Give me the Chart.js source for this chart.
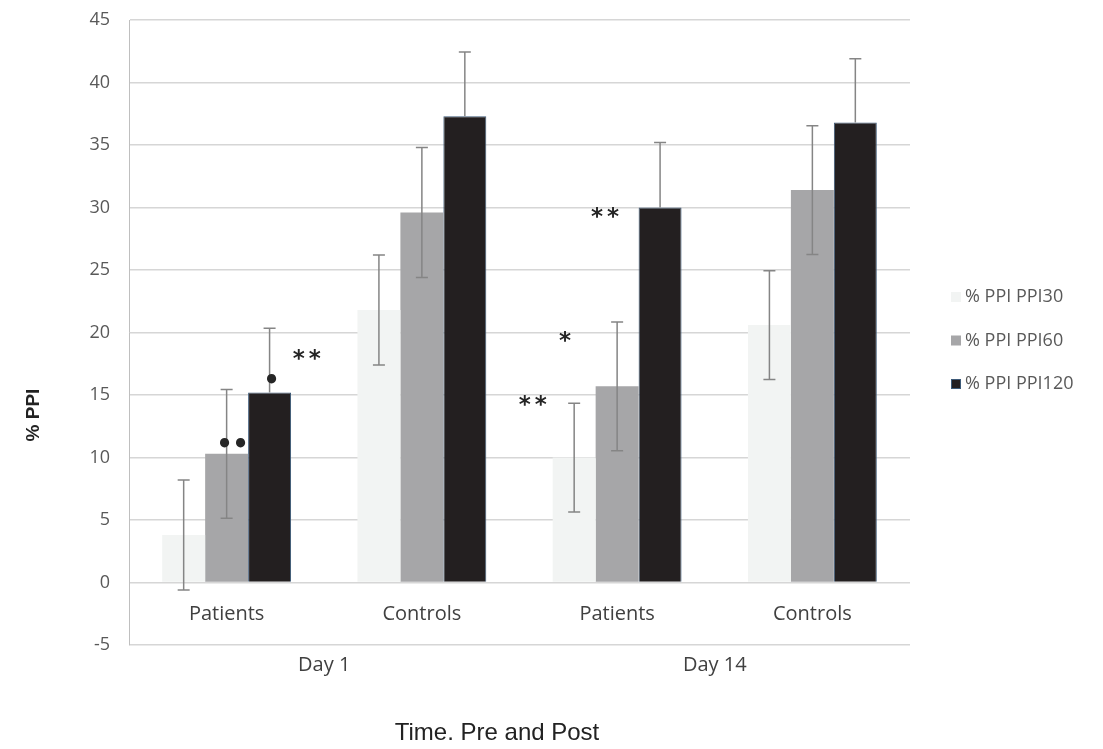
<!DOCTYPE html>
<html>
<head>
<meta charset="utf-8">
<script src="https://cdn.jsdelivr.net/npm/chart.js@4/dist/chart.umd.min.js"></script>
<style>
  body { margin: 0; background: #fff; }
  #wrap { width: 1103px; height: 749px; }
</style>
</head>
<body>
<div id="wrap"><canvas id="ppi" width="1103" height="749"></canvas></div>
<script>
const categories = ["Patients", "Controls", "Patients", "Controls"];
const groups = ["Day 1", "Day 14"];
const seriesNames = ["% PPI PPI30", "% PPI PPI60", "% PPI PPI120"];

const ppi30 = [3.8, 21.8, 10.0, 20.6];
const ppi60 = [10.3, 29.6, 15.7, 31.4];
const ppi120 = [15.2, 37.3, 30.0, 36.8];

const err30 = [4.4, 4.4, 4.35, 4.35];
const err60 = [5.15, 5.2, 5.15, 5.15];
const err120 = [5.15, 5.15, 5.2, 5.1];

// significance marks: x in category units, y in % PPI
const marks = [
  { x: 0.03, y: 11.2, text: "••" },
  { x: 0.23, y: 16.25, text: "•" },
  { x: 0.41, y: 18.25, text: "**" },
  { x: 1.568, y: 14.55, text: "**" },
  { x: 1.733, y: 19.65, text: "*" },
  { x: 1.938, y: 29.6, text: "**" },
];

const colors = ["#f2f4f3", "#a6a6a8", "#231f20"];
const values = [ppi30, ppi60, ppi120];
const errors = [err30, err60, err120];

const overlay = {
  id: "overlay",
  afterDatasetsDraw(chart) {
    const { ctx, scales: { y } } = chart;
    ctx.save();
    ctx.strokeStyle = "#858585";
    ctx.lineWidth = 1.5;
    errors.forEach((errs, d) => {
      chart.getDatasetMeta(d).data.forEach((bar, i) => {
        const v = values[d][i];
        const top = y.getPixelForValue(v + errs[i]);
        // the dark bars hide the lower half
        const bot = d === 2 ? bar.y : y.getPixelForValue(v - errs[i]);
        ctx.beginPath();
        ctx.moveTo(bar.x, top);
        ctx.lineTo(bar.x, bot);
        ctx.moveTo(bar.x - 6, top);
        ctx.lineTo(bar.x + 6, top);
        if (d !== 2) {
          ctx.moveTo(bar.x - 6, bot);
          ctx.lineTo(bar.x + 6, bot);
        }
        ctx.stroke();
      });
    });

    ctx.fillStyle = "#262626";
    marks.forEach((m) => {
      const px = chart.scales.x.getPixelForValue(m.x);
      const py = y.getPixelForValue(m.y);
      const chars = [...m.text];
      chars.forEach((ch, k) => {
        ctx.font = ch === "•" ? "bold 26px 'DejaVu Sans'" : "bold 23px 'DejaVu Sans'";
        ctx.textAlign = "center";
        ctx.textBaseline = "alphabetic";
        const tm = ctx.measureText(ch);
        const cx = px + (k - (chars.length - 1) / 2) * 16;
        ctx.fillText(ch, cx, py + (tm.actualBoundingBoxAscent - tm.actualBoundingBoxDescent) / 2);
      });
    });
    ctx.restore();
  },
  afterDraw(chart) {
    const { ctx, chartArea, scales: { x, y } } = chart;
    ctx.save();
    ctx.textAlign = "center";
    ctx.textBaseline = "middle";

    // category labels sit just under the zero line
    ctx.fillStyle = "#404040";
    ctx.font = "20px 'Open Sans'";
    const zero = y.getPixelForValue(0);
    categories.forEach((c, i) => ctx.fillText(c, x.getPixelForValue(i), zero + 32));

    groups.forEach((g, i) => {
      const gx = (x.getPixelForValue(i * 2) + x.getPixelForValue(i * 2 + 1)) / 2;
      ctx.fillText(g, gx, chartArea.bottom + 20);
    });

    ctx.fillStyle = "#222";
    ctx.font = "24px 'Liberation Sans'";
    ctx.fillText("Time. Pre and Post", 497, 733);

    ctx.save();
    ctx.translate(34, 415);
    ctx.rotate(-Math.PI / 2);
    ctx.font = "bold 19px 'Liberation Sans'";
    ctx.fillText("% PPI", 0, 0);
    ctx.restore();

    // legend
    ctx.textAlign = "left";
    ctx.font = "18px 'Open Sans'";
    seriesNames.forEach((name, i) => {
      const ly = 297 + i * 43.5;
      ctx.fillStyle = colors[i];
      ctx.fillRect(chartArea.right + 41, ly - 5, 10, 10);
      if (i === 2) {
        ctx.strokeStyle = "#3d5a78";
        ctx.lineWidth = 1;
        ctx.strokeRect(chartArea.right + 41.5, ly - 4.5, 9, 9);
      }
      ctx.fillStyle = "#595959";
      ctx.fillText(name, chartArea.right + 55, ly);
    });
    ctx.restore();
  },
};

new Chart(document.getElementById("ppi").getContext("2d"), {
  type: "bar",
  data: {
    labels: categories,
    datasets: seriesNames.map((name, i) => ({
      label: name,
      data: values[i],
      backgroundColor: colors[i],
      borderColor: i === 2 ? "#3d5a78" : colors[i],
      borderWidth: i === 2 ? 1 : 0,
      barPercentage: 1,
      categoryPercentage: 0.66,
    })),
  },
  options: {
    responsive: false,
    animation: false,
    layout: { padding: { top: 20, right: 193, bottom: 0, left: 0 } },
    plugins: {
      legend: { display: false },
      tooltip: { enabled: false },
    },
    scales: {
      x: {
        ticks: { display: false },
        grid: { display: false },
        border: { display: false },
        afterFit(scale) {
          scale.height = 104;
        },
      },
      y: {
        min: -5,
        max: 45,
        ticks: {
          stepSize: 5,
          padding: 19,
          color: "#595959",
          font: { family: "'Open Sans'", size: 18 },
        },
        grid: { color: "#d6d6d6", lineWidth: 1.5, drawTicks: false },
        border: { display: true, color: "#bfbfbf", width: 1 },
        afterFit(scale) {
          scale.width = 129;
          scale.paddingTop = 0;
          scale.paddingBottom = 0;
        },
      },
    },
  },
  plugins: [overlay],
});
</script>
</body>
</html>
